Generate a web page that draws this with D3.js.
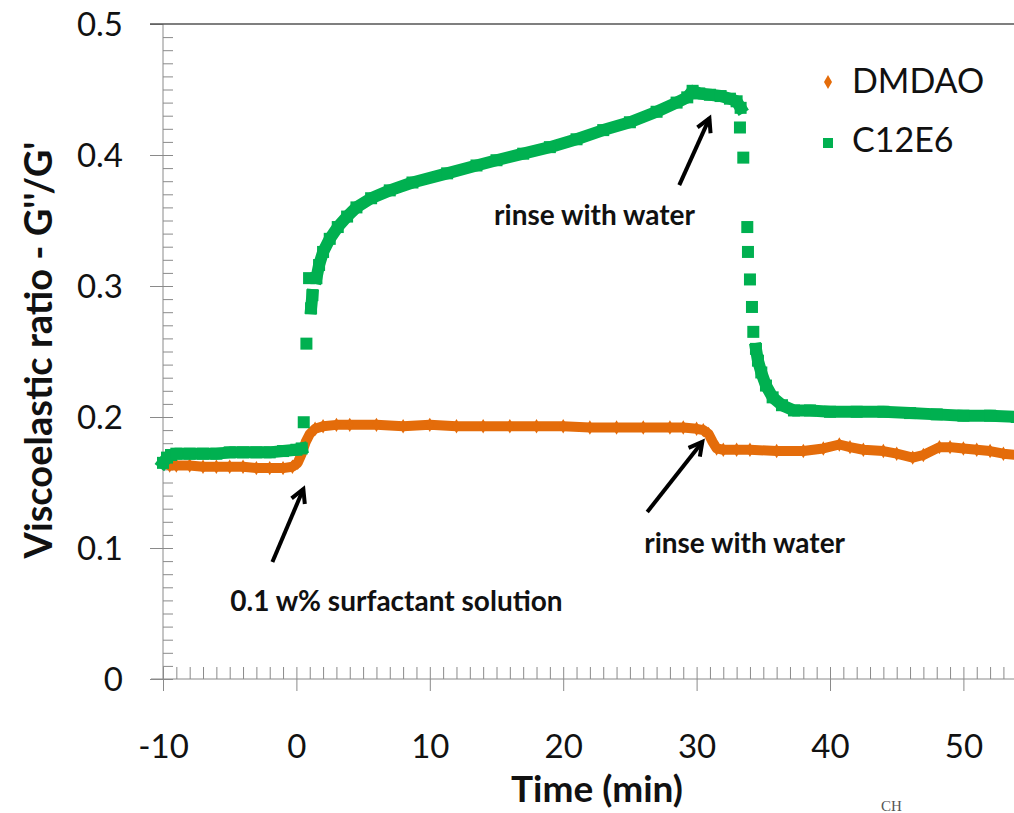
<!DOCTYPE html>
<html>
<head>
<meta charset="utf-8">
<script src="https://cdn.jsdelivr.net/npm/d3@7"></script>
<style>
body { margin: 0; background: #fff; }
svg { display: block; font-family: Lato, "Open Sans", sans-serif; }
</style>
</head>
<body>
<script>
// values
var xTicks = [-10, 0, 10, 20, 30, 40, 50];
var yTicks = [0, 0.1, 0.2, 0.3, 0.4, 0.5];

var dmdaoTime = [-10, -9.5, -9, -8, -7, -6, -5, -4, -3, -2, -1, -0.3, 0.1, 0.4, 0.7, 1.0, 1.4, 2, 3, 4,
  6, 8, 10, 12, 14, 16, 18, 20, 22, 24, 26, 28, 29, 30, 30.5, 30.9, 31.2, 31.5, 32, 33,
  34, 36, 38, 39.5, 40.7, 41.5, 42.5, 44, 45, 46.2, 47, 48.2, 49, 50, 51, 52, 53, 54];
var dmdaoValue = [0.165, 0.163, 0.163, 0.163, 0.162, 0.162, 0.162, 0.162, 0.161, 0.161, 0.161, 0.162, 0.165, 0.172, 0.181, 0.187, 0.191, 0.193, 0.194, 0.194,
  0.194, 0.193, 0.194, 0.193, 0.193, 0.193, 0.193, 0.193, 0.192, 0.192, 0.192, 0.192, 0.192, 0.191, 0.190, 0.187, 0.181, 0.176, 0.175, 0.175,
  0.175, 0.174, 0.174, 0.176, 0.179, 0.177, 0.175, 0.174, 0.172, 0.169, 0.171, 0.177, 0.177, 0.176, 0.175, 0.174, 0.172, 0.171];

var c12e6Time = [-10, -9.7, -9.4, -9, -8, -7, -6, -5, -4, -3, -2, -1, 0, 0.4, 0.55, 0.75, 0.95, 1.1, 1.2, 1.5,
  1.7, 2.0, 2.5, 3.1, 3.8, 4.5, 5.6, 7, 8.7, 11.3, 13.5, 15, 17, 19, 21, 23, 25, 27, 28.5, 29.3,
  29.7, 30.2, 31, 31.8, 32.5, 33, 33.3, 33.25, 33.5, 33.8, 33.85, 34.0, 34.15, 34.25, 34.45, 34.6, 34.85, 35.2, 35.7, 36.4,
  37.3, 38.5, 40, 42, 44, 46, 48, 50, 52, 54];
var c12e6Value = [0.165, 0.169, 0.171, 0.172, 0.172, 0.172, 0.172, 0.173, 0.173, 0.173, 0.173, 0.174, 0.175, 0.176, 0.196, 0.256, 0.306, 0.283, 0.293, 0.306,
  0.316, 0.326, 0.336, 0.345, 0.353, 0.360, 0.367, 0.373, 0.379, 0.386, 0.392, 0.396, 0.401, 0.406, 0.412, 0.419, 0.425, 0.433, 0.440, 0.444,
  0.449, 0.447, 0.446, 0.445, 0.443, 0.441, 0.436, 0.421, 0.398, 0.345, 0.326, 0.305, 0.284, 0.265, 0.252, 0.243, 0.234, 0.224, 0.215, 0.209,
  0.205, 0.205, 0.204, 0.204, 0.204, 0.203, 0.202, 0.201, 0.201, 0.200];

// arrows: tail -> tip, in data units
var notes = [
  { text: "rinse with water", tx: 22.35, ty: 0.3466, x1: 28.7, y1: 0.377, x2: 30.96, y2: 0.428 },
  { text: "rinse with water", tx: 33.6, ty: 0.0962, x1: 26.3, y1: 0.1275, x2: 30.43, y2: 0.181 },
  { text: "0.1 w% surfactant solution", tx: 7.5, ty: 0.052, x1: -1.8, y1: 0.0893, x2: 0.52, y2: 0.145 }
];

var width = 1014;
var height = 813;
var orange = "#e46c0a";
var green = "#00b050";

var svg = d3.select("body").append("svg")
    .attr("width", width)
    .attr("height", height);

var x = d3.scaleLinear().domain([-10, 60]).range([163, 163 + 70 * 13.34]);
var y = d3.scaleLinear().domain([0, 0.5]).range([679, 24]);

// minor ticks (inside)
var xMinorG = svg.append("g")
    .attr("transform", "translate(0," + y(0) + ")")
    .call(d3.axisBottom(x).tickValues(d3.range(-10, 55, 1)).tickSize(-12).tickFormat(""));
var yMinorG = svg.append("g")
    .attr("transform", "translate(" + x(-10) + ",0)")
    .call(d3.axisLeft(y).tickValues(d3.range(0, 50).map(function(i) { return i / 100; })).tickSize(-10).tickFormat(""));

// major ticks with labels
var xMajorG = svg.append("g")
    .attr("transform", "translate(0," + y(0) + ")")
    .call(d3.axisBottom(x).tickValues(xTicks).tickSize(12).tickSizeOuter(0).tickFormat(function(d) { return String(d); }));
var yMajorG = svg.append("g")
    .attr("transform", "translate(" + x(-10) + ",0)")
    .call(d3.axisLeft(y).tickValues(yTicks).tickSize(13).tickSizeOuter(0).tickFormat(function(d) { return d === 0 ? "0" : d3.format(".1f")(d); }));

[xMinorG, yMinorG, xMajorG, yMajorG].forEach(function(g) {
  g.attr("font-family", null).attr("font-size", null);
  g.select(".domain").remove();
  g.selectAll("line").attr("stroke", "#8a8a8a");
});

xMajorG.selectAll("text")
    .attr("y", 79).attr("dy", 0)
    .attr("fill", "#111")
    .style("font-size", "33px");
yMajorG.selectAll("text")
    .attr("x", -40).attr("dy", "0.36em")
    .attr("fill", "#111")
    .style("font-size", "33px");

// axis lines
svg.append("line")
    .attr("x1", x(-10)).attr("x2", x(-10))
    .attr("y1", y(0.5)).attr("y2", y(0))
    .attr("stroke", "#8a8a8a");
svg.append("line")
    .attr("x1", x(-10) - 12).attr("x2", width)
    .attr("y1", y(0)).attr("y2", y(0))
    .attr("stroke", "#8a8a8a");
svg.append("line")
    .attr("x1", x(-10) - 13).attr("x2", width)
    .attr("y1", y(0.5)).attr("y2", y(0.5))
    .attr("stroke", "#555").attr("stroke-width", 1.5);

// axis titles
svg.append("text")
    .attr("transform", "translate(52," + 350 + ") rotate(-90)")
    .attr("text-anchor", "middle")
    .style("font-size", "38px").style("font-weight", "bold")
    .attr("fill", "#111")
    .text("Viscoelastic ratio - G''/G'");
svg.append("text")
    .attr("x", 597).attr("y", 802)
    .attr("text-anchor", "middle")
    .style("font-size", "37px").style("font-weight", "bold")
    .attr("fill", "#111")
    .text("Time (min)");

// fragment of the page below
svg.append("text")
    .attr("x", 881).attr("y", 811)
    .style("font-family", "'Liberation Serif', serif").style("font-size", "15px")
    .attr("fill", "#555")
    .text("CH");

function zip(t, v) {
  return t.map(function(d, i) { return [d, v[i]]; });
}

// split the run where consecutive points jump apart vertically
function segments(data) {
  var out = [], cur = [data[0]];
  for (var i = 1; i < data.length; i++) {
    if (Math.abs(y(data[i][1]) - y(data[i - 1][1])) > 14) { out.push(cur); cur = []; }
    cur.push(data[i]);
  }
  out.push(cur);
  return out.filter(function(s) { return s.length > 1; });
}

var line = d3.line()
    .x(function(d) { return x(d[0]); })
    .y(function(d) { return y(d[1]); });

var dmdao = zip(dmdaoTime, dmdaoValue);
var c12e6 = zip(c12e6Time, c12e6Value);

var plot = svg.append("g");

plot.selectAll("path.dmdao")
    .data(segments(dmdao))
    .enter().append("path")
    .attr("class", "dmdao")
    .attr("d", line)
    .attr("fill", "none")
    .attr("stroke", orange)
    .attr("stroke-width", 10)
    .attr("stroke-linejoin", "round")
    .attr("stroke-linecap", "round");
plot.selectAll("path.dmdaoPt")
    .data(dmdao)
    .enter().append("path")
    .attr("class", "dmdaoPt")
    .attr("d", d3.symbol(d3.symbolDiamond, 60))
    .attr("transform", function(d) { return "translate(" + x(d[0]) + "," + y(d[1]) + ")"; })
    .attr("fill", orange);

plot.selectAll("path.c12e6")
    .data(segments(c12e6))
    .enter().append("path")
    .attr("class", "c12e6")
    .attr("d", line)
    .attr("fill", "none")
    .attr("stroke", green)
    .attr("stroke-width", 12)
    .attr("stroke-linejoin", "round")
    .attr("stroke-linecap", "square");
plot.selectAll("rect.c12e6Pt")
    .data(c12e6)
    .enter().append("rect")
    .attr("class", "c12e6Pt")
    .attr("x", function(d) { return x(d[0]) - 6; })
    .attr("y", function(d) { return y(d[1]) - 6; })
    .attr("width", 12).attr("height", 12)
    .attr("fill", green);

// annotations
var ann = svg.append("g");
notes.forEach(function(n) {
  var ax1 = x(n.x1), ay1 = y(n.y1), ax2 = x(n.x2), ay2 = y(n.y2);
  var ang = Math.atan2(ay2 - ay1, ax2 - ax1);
  var len = 15, spread = 0.5;
  ann.append("line")
      .attr("x1", ax1).attr("y1", ay1).attr("x2", ax2).attr("y2", ay2)
      .attr("stroke", "#000").attr("stroke-width", 4);
  ann.append("path")
      .attr("d", "M" + (ax2 - len * Math.cos(ang - spread)) + "," + (ay2 - len * Math.sin(ang - spread)) +
        "L" + ax2 + "," + ay2 +
        "L" + (ax2 - len * Math.cos(ang + spread)) + "," + (ay2 - len * Math.sin(ang + spread)))
      .attr("fill", "none").attr("stroke", "#000").attr("stroke-width", 4)
      .attr("stroke-linejoin", "miter");
  ann.append("text")
      .attr("x", x(n.tx)).attr("y", y(n.ty))
      .attr("text-anchor", "middle")
      .style("font-size", "28px").style("font-weight", "bold")
      .attr("fill", "#111")
      .text(n.text);
});

// legend
var legend = svg.append("g");
legend.append("path")
    .attr("d", d3.symbol(d3.symbolDiamond, 55))
    .attr("transform", "translate(828,82)")
    .attr("fill", orange);
legend.append("rect")
    .attr("x", 823).attr("y", 138).attr("width", 10).attr("height", 10)
    .attr("fill", green);
legend.append("text").attr("x", 852).attr("y", 93)
    .style("font-size", "34px").attr("fill", "#111").text("DMDAO");
legend.append("text").attr("x", 852).attr("y", 152)
    .style("font-size", "34px").attr("fill", "#111").text("C12E6");
</script>
</body>
</html>
